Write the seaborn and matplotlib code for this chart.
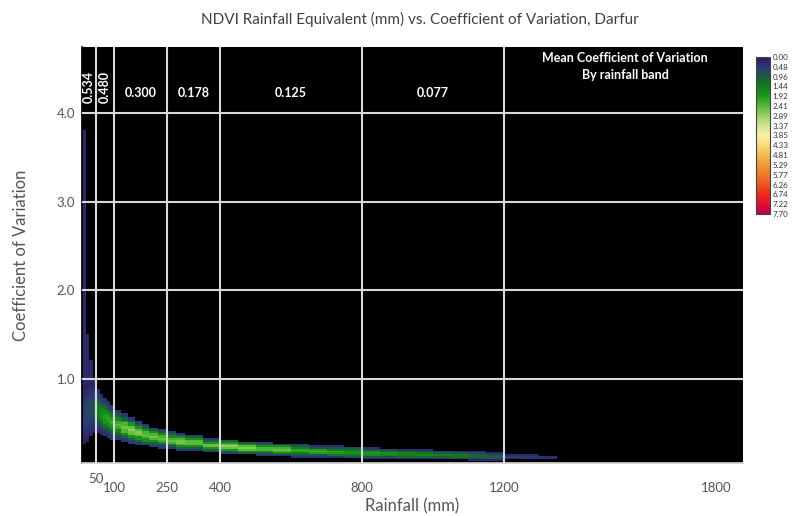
import numpy as np
import pandas as pd
import matplotlib
matplotlib.use("Agg")
import matplotlib.pyplot as plt
from matplotlib.colors import LinearSegmentedColormap
import seaborn as sns

sns.set_theme(style="white")
plt.rcParams["font.family"] = ["Lato", "DejaVu Sans"]

# Rainfall columns (mm) of the density grid
rain_edges = [10, 20, 30, 40, 50, 60, 70, 80, 90, 100, 120, 140, 160, 180, 200,
              225, 250, 275, 300, 350, 400, 450, 500, 550, 600, 650, 700, 750, 800,
              850, 900, 950, 1000, 1050, 1100, 1150, 1200, 1250, 1300, 1350]
# Centre of the CV ridge in each rainfall column
ridge_cv = [0.60, 0.62, 0.66, 0.68, 0.64, 0.60, 0.57, 0.54, 0.51,
            0.48, 0.45, 0.42, 0.39, 0.365, 0.345, 0.325, 0.305, 0.29,
            0.27, 0.25, 0.235, 0.22, 0.21, 0.20, 0.19, 0.18, 0.175, 0.17,
            0.16, 0.155, 0.15, 0.145, 0.14, 0.135, 0.13, 0.125,
            0.12, 0.115, 0.11]
# Half-width of the ridge (CV units)
ridge_halfwidth = [0.30, 0.30, 0.28, 0.26, 0.22, 0.20, 0.19, 0.18, 0.17,
                   0.15, 0.14, 0.13, 0.12, 0.11, 0.10, 0.095, 0.09, 0.085,
                   0.08, 0.075, 0.075, 0.07, 0.07, 0.065, 0.065, 0.06, 0.06, 0.06,
                   0.055, 0.055, 0.05, 0.05, 0.05, 0.045, 0.045, 0.04,
                   0.03, 0.03, 0.025]
# Peak pixel density at the ridge centre
ridge_peak = [0.6, 0.7, 0.8, 1.0, 1.5, 1.8, 2.0, 2.1, 2.2,
              2.4, 2.6, 2.8, 2.7, 2.6, 2.6, 2.5, 2.5, 2.6,
              2.7, 2.8, 2.8, 2.7, 2.6, 2.5, 2.3, 2.2, 2.1, 2.0,
              1.9, 1.8, 1.7, 1.6, 1.5, 1.4, 1.3, 1.2,
              0.6, 0.5, 0.45]
# Relative density across the ridge, from lower fringe to upper fringe
ridge_profile = [0.18, 0.4, 0.65, 0.9, 1.0, 0.9, 0.65, 0.4, 0.18]
# Sparse high-CV scatter in the driest columns
tail_top = [3.8, 1.5, 1.2, 1.0]
tail_level = [0.25, 0.2, 0.2, 0.2]

# Band boundaries and mean CV per rainfall band
band_edges = [10, 50, 100, 250, 400, 800, 1200]
band_mean_cv = ["0.534", "0.480", "0.300", "0.178", "0.125", "0.077"]

x_ticks = [50, 100, 250, 400, 800, 1200, 1800]
y_ticks = [1.0, 2.0, 3.0, 4.0]

cbar_ticks = [0.00, 0.48, 0.96, 1.44, 1.92, 2.41, 2.89, 3.37, 3.85, 4.33,
              4.81, 5.29, 5.77, 6.26, 6.74, 7.22, 7.70]
cbar_colors = ["#2d1b5a", "#2b3a7a", "#1e5a40", "#0f7f1a", "#1d9a1d", "#5cb83a",
               "#9fd066", "#d4e494", "#f6f0a8", "#f7dc7a", "#f2bb4c", "#ef9a36",
               "#ee7a2a", "#ee5522", "#ec2a1c", "#e0102e", "#b8004f"]

cv_edges = np.round(np.arange(0.05, 4.75 + 1e-9, 0.02), 3)

# Assemble weighted cells for the 2-D histogram
rows = []
cv_centres = (cv_edges[:-1] + cv_edges[1:]) / 2
for i in range(len(rain_edges) - 1):
    xc = (rain_edges[i] + rain_edges[i + 1]) / 2
    for cy in cv_centres:
        k = int(round(4 * (cy - ridge_cv[i]) / ridge_halfwidth[i]))
        if abs(k) <= 4:
            w = ridge_peak[i] * ridge_profile[k + 4]
        elif i < len(tail_top) and ridge_cv[i] < cy <= tail_top[i]:
            w = tail_level[i]
        else:
            continue
        rows.append((xc, cy, w))
cells = pd.DataFrame(rows, columns=["rain", "cv", "density"])

cmap = LinearSegmentedColormap.from_list(
    "ndvi_cv", list(zip(np.array(cbar_ticks) / cbar_ticks[-1], cbar_colors)))

fig = plt.figure(figsize=(8.08, 5.16), dpi=100)
ax = fig.add_axes([82 / 808, 53 / 516, 661 / 808, 416 / 516])
cax = fig.add_axes([756 / 808, 302 / 516, 14 / 808, 157 / 516])
ax.set_facecolor("black")

sns.histplot(data=cells, x="rain", y="cv", weights="density",
             bins=[rain_edges, cv_edges], cmap=cmap, vmin=0, vmax=7.70,
             cbar=True, cbar_ax=cax, ax=ax)

ax.set_xlim(10, 1875)
ax.set_ylim(0.05, 4.75)

grid_col = "#d8d8d8"
for yv in y_ticks:
    ax.axhline(yv, color=grid_col, lw=1.5, zorder=3)
for xv in band_edges[1:]:
    ax.axvline(xv, color=grid_col, lw=1.5, zorder=3)

# Band annotations
txt_kw = dict(color="white", fontsize=9, fontweight="bold", zorder=4)
for j, lab in enumerate(band_mean_cv):
    xc = (band_edges[j] + band_edges[j + 1]) / 2
    if j < 2:
        ax.text(xc, 4.30, lab, rotation=90, ha="center", va="center", **txt_kw)
    else:
        ax.text(xc, 4.225, lab, ha="center", va="center", **txt_kw)
ax.text(1542, 4.525, "Mean Coefficient of Variation\nBy rainfall band",
        ha="center", va="center", linespacing=1.5, **txt_kw)

tick_col = "#555555"
ax.set_xticks(x_ticks)
ax.set_xticklabels([str(v) for v in x_ticks])
ax.set_yticks(y_ticks)
ax.set_yticklabels([f"{v:.1f}" for v in y_ticks])
ax.tick_params(axis="both", length=0, labelsize=9.5, labelcolor=tick_col)
ax.tick_params(axis="x", pad=14)
ax.tick_params(axis="y", pad=5)
ax.xaxis.get_major_ticks()[0].set_pad(7)

for side in ["top", "right"]:
    ax.spines[side].set_visible(False)
ax.spines["left"].set_color("black")
ax.spines["bottom"].set_color("#cfcfcf")

ax.set_xlabel("Rainfall (mm)", fontsize=12, color="#555555", labelpad=3)
ax.set_ylabel("Coefficient of Variation", fontsize=12, color="#555555", labelpad=20)
fig.text(0.52, 0.962, "NDVI Rainfall Equivalent (mm) vs. Coefficient of Variation, Darfur",
         ha="center", va="center", fontsize=11, color="#404040")

# Colour key
cax.set_yticks(cbar_ticks)
cax.set_yticklabels([f"{v:.2f}" for v in cbar_ticks])
cax.invert_yaxis()
cax.tick_params(length=0, labelsize=5.8, labelcolor="#333333", pad=2)
for s in cax.spines.values():
    s.set_edgecolor("#444444")
    s.set_linewidth(0.8)

fig.savefig("out.png", dpi=100)
